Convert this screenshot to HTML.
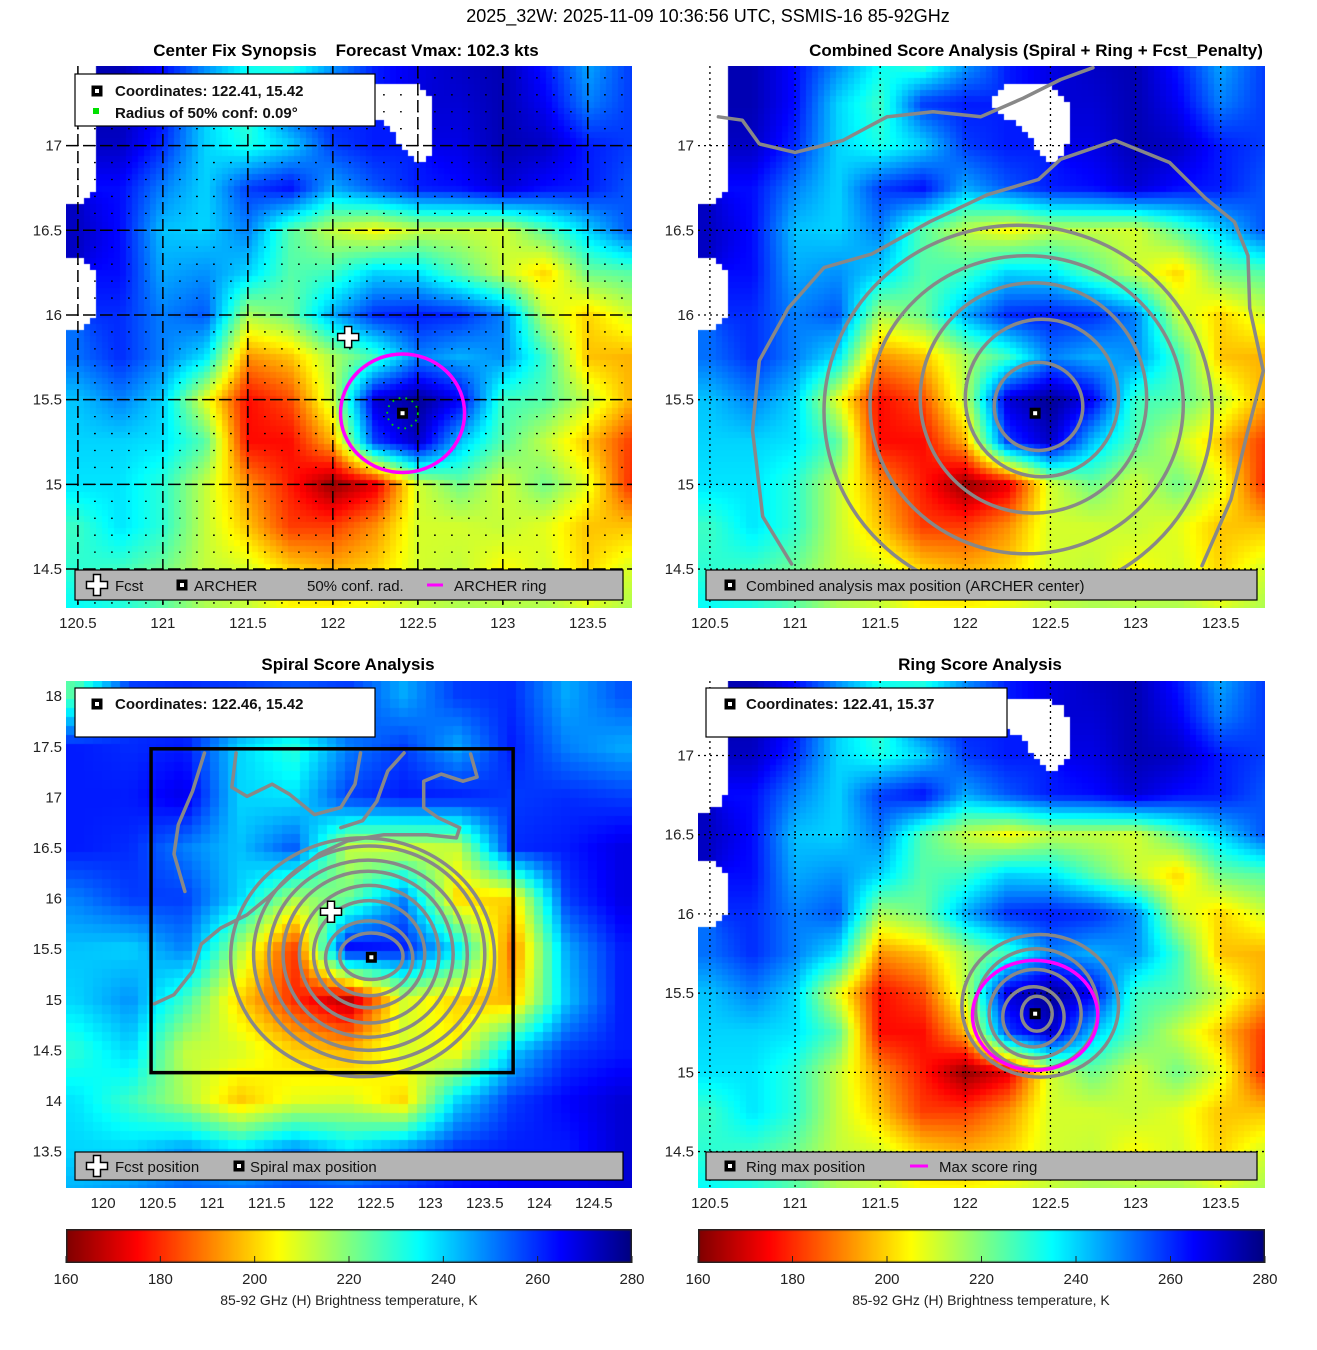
<!DOCTYPE html>
<html><head><meta charset="utf-8">
<style>
html,body{margin:0;padding:0;background:#fff;}
body{width:1317px;height:1350px;position:relative;overflow:hidden;font-family:"Liberation Sans","DejaVu Sans",sans-serif;}
canvas{position:absolute;}
svg{position:absolute;left:0;top:0;}
</style></head>
<body>
<canvas id="c1" width="566" height="542" style="left:66px;top:66px"></canvas>
<canvas id="c2" width="567" height="542" style="left:698px;top:66px"></canvas>
<canvas id="c3" width="566" height="507" style="left:66px;top:681px"></canvas>
<canvas id="c4" width="567" height="507" style="left:698px;top:681px"></canvas>
<canvas id="cb1" width="566" height="34" style="left:66px;top:1229px"></canvas>
<canvas id="cb2" width="567" height="34" style="left:698px;top:1229px"></canvas>
<svg id="ov" width="1317" height="1350" xmlns="http://www.w3.org/2000/svg">
<text x="708" y="22" font-size="18" text-anchor="middle">2025_32W: 2025-11-09 10:36:56 UTC, SSMIS-16 85-92GHz</text>
<text x="346" y="56" font-size="17" font-weight="bold" text-anchor="middle" xml:space="preserve">Center Fix Synopsis    Forecast Vmax: 102.3 kts</text>
<text x="1036" y="56" font-size="17" font-weight="bold" text-anchor="middle">Combined Score Analysis (Spiral + Ring + Fcst_Penalty)</text>
<text x="348" y="670" font-size="17" font-weight="bold" text-anchor="middle">Spiral Score Analysis</text>
<text x="980" y="670" font-size="17" font-weight="bold" text-anchor="middle">Ring Score Analysis</text>
<text x="349" y="1305" font-size="14" fill="#222" text-anchor="middle">85-92 GHz (H) Brightness temperature, K</text>
<text x="981" y="1305" font-size="14" fill="#222" text-anchor="middle">85-92 GHz (H) Brightness temperature, K</text>
</svg>
<script>
// ---- data: brightness temperature grid (panels 1,2,4) ----
const lonA=[120.5,120.75,121,121.25,121.5,121.75,122,122.25,122.5,122.75,123,123.25,123.5,123.75];
const latA=[17.5,17.25,17,16.75,16.5,16.25,16,15.75,15.5,15.25,15,14.75,14.5,14.25];
const tbA=[
[null,274,264,250,235,225,245,262,268,272,274,262,245,258],
[null,274,264,240,228,258,262,null,null,270,274,266,250,258],
[null,272,260,240,232,240,258,262,null,268,274,272,262,258],
[null,264,250,240,258,264,245,255,262,264,270,264,262,255],
[272,264,242,240,250,225,212,205,212,212,210,225,240,255],
[null,264,245,248,240,225,228,240,238,225,212,200,222,225],
[null,260,250,255,215,222,245,260,262,260,250,212,200,210],
[252,260,250,238,192,198,215,228,250,244,248,228,198,196],
[242,250,240,208,176,184,212,270,278,266,228,225,212,196],
[240,240,238,225,176,176,196,258,272,242,225,212,198,182],
[238,238,230,212,192,178,162,172,210,222,210,222,208,180],
[228,238,230,212,198,182,182,192,210,210,212,208,198,198],
[230,228,222,212,210,200,196,200,210,212,205,210,200,210],
[235,232,225,215,212,205,205,208,212,215,215,215,210,215]];
// ---- data: spiral panel wide grid ----
const lonB=[119.75,120.25,120.75,121.25,121.75,122.25,122.75,123.25,123.75,124.25,124.75];
const latB=[18,17.5,17,16.5,16,15.5,15,14.5,14,13.5,13];
const tbB=[
[225,258,260,258,255,258,245,258,260,245,255],
[262,260,262,240,230,250,258,245,262,250,245],
[262,262,268,240,238,258,262,262,258,260,258],
[262,260,250,242,255,212,210,212,260,262,268],
[250,258,258,240,215,222,250,200,200,258,268],
[242,240,250,215,180,266,262,238,188,245,262],
[240,248,228,200,180,166,210,200,196,242,262],
[230,240,212,210,200,196,210,205,240,258,262],
[238,228,215,198,208,210,200,240,258,265,270],
[240,240,248,240,250,240,250,260,262,262,270],
[245,250,255,255,258,260,262,265,268,270,270]];
// colorbar
const cbTicks=[160,180,200,220,240,260,280];
// axis ticks
const xTicksA=[120.5,121,121.5,122,122.5,123,123.5];
const yTicksA=[14.5,15,15.5,16,16.5,17];
const xTicksB=[120,120.5,121,121.5,122,122.5,123,123.5,124,124.5];
const yTicksB=[13.5,14,14.5,15,15.5,16,16.5,17,17.5,18];
// centers / markers
const archerCenter=[122.41,15.42];
const fcstPos=[122.09,15.87];
const spiralCenter=[122.46,15.42];
const ringCenter=[122.41,15.37];
const archerRing=[122.41,15.42,0.365,0.35];
const maxScoreRing=[122.41,15.36,0.368,0.347];
const confRadius=0.09;
// contour rings: cx, cy, rx, ry (degrees)
const combCx=[122.43,122.45,122.40,122.36,122.31];
const combCy=[15.46,15.51,15.51,15.47,15.43];
const combRx=[0.26,0.45,0.665,0.92,1.14];
const combRy=[0.26,0.465,0.68,0.88,1.10];
const combOuterLon=[120.98,120.81,120.75,120.79,120.96,121.17,121.45,121.79,122.13,122.43,122.56,122.88,123.2,123.41,123.58,123.66,123.67,123.75,123.66,123.56,123.39];
const combOuterLat=[14.53,14.81,15.32,15.73,16.04,16.28,16.36,16.55,16.71,16.80,16.92,17.03,16.9,16.69,16.55,16.35,16.04,15.67,15.32,14.91,14.52];
const combTopLon=[120.55,120.69,120.79,121.0,121.28,121.54,121.81,122.09,122.34,122.56,122.75];
const combTopLat=[17.17,17.15,17.01,16.96,17.03,17.17,17.2,17.17,17.28,17.39,17.46];
const spirCx=[122.46,122.44,122.44,122.44,122.43,122.43,122.44,122.38];
const spirCy=[15.43,15.41,15.45,15.45,15.45,15.44,15.45,15.42];
const spirRx=[0.29,0.40,0.51,0.64,0.78,0.91,1.06,1.21];
const spirRy=[0.23,0.37,0.53,0.68,0.82,0.94,1.07,1.18];
const spirBLon=[120.47,120.65,120.82,120.90,121.08,121.32,121.51,121.71,121.98,122.24,122.57,122.97,123.24,123.27,123.07,122.94,122.94,123.10,123.3,123.43,123.37];
const spirBLat=[14.96,15.05,15.28,15.55,15.71,15.84,16.01,16.21,16.44,16.57,16.63,16.63,16.6,16.7,16.8,16.9,17.16,17.23,17.16,17.2,17.43];
const spirCLon=[120.75,120.65,120.69,120.82,120.93];
const spirCLat=[16.07,16.44,16.73,17.06,17.44];
const spirDLon=[121.22,121.18,121.32,121.55,121.71,121.94,122.18,122.31,122.36];
const spirDLat=[17.44,17.10,17.01,17.13,17.03,16.83,16.9,17.13,17.44];
const spirELon=[122.76,122.61,122.51,122.38,122.18];
const spirELat=[17.44,17.26,16.96,16.77,16.70];
const ringCx=[122.42,122.40,122.41,122.42,122.44];
const ringCy=[15.37,15.35,15.37,15.40,15.42];
const ringRx=[0.09,0.18,0.27,0.36,0.46];
const ringRy=[0.11,0.19,0.28,0.38,0.45];

// ---- helpers ----
function jet(v){const t=Math.max(0,Math.min(1,(280-v)/120));
 const c=x=>Math.round(255*Math.max(0,Math.min(1,x)));
 return [c(1.5-Math.abs(4*t-3)),c(1.5-Math.abs(4*t-2)),c(1.5-Math.abs(4*t-1))];}
function sample(lons,lats,grid,lo,la){
 let i=(lo-lons[0])/(lons[1]-lons[0]), j=(la-lats[0])/(lats[1]-lats[0]);
 i=Math.max(0,Math.min(lons.length-1,i)); j=Math.max(0,Math.min(lats.length-1,j));
 const i0=Math.floor(i),j0=Math.floor(j),i1=Math.min(i0+1,lons.length-1),j1=Math.min(j0+1,lats.length-1);
 const fx=i-i0,fy=j-j0;let s=0,w=0,nw=0;
 [[i0,j0,(1-fx)*(1-fy)],[i1,j0,fx*(1-fy)],[i0,j1,(1-fx)*fy],[i1,j1,fx*fy]].forEach(([a,b,ww])=>{const v=grid[b][a];if(v!==null){s+=v*ww;w+=ww;}else nw+=ww;});
 if(nw>0.6||w===0) return null;
 return s/w;}
function axis(left,top,w,h,lon0,lon1,latT,latB){
 return {x:lo=>left+(lo-lon0)/(lon1-lon0)*w, y:la=>top+(latT-la)/(latT-latB)*h, left,top,w,h,lon0,lon1,latT,latB};}
const P1=axis(66,66,566,542,120.43,123.76,17.47,14.27);
const P2=axis(698,66,567,542,120.43,123.76,17.47,14.27);
const P3=axis(66,681,566,507,119.66,124.85,18.15,13.14);
const P4=axis(698,681,567,507,120.43,123.76,17.47,14.27);
function paint(id,P,lons,lats,grid,cell){
 const ctx=document.getElementById(id).getContext('2d');
 for(let py=0;py<P.h;py+=cell)for(let px=0;px<P.w;px+=cell){
  const lo=P.lon0+(px+cell/2)/P.w*(P.lon1-P.lon0), la=P.latT-(py+cell/2)/P.h*(P.latT-P.latB);
  const v=sample(lons,lats,grid,lo,la);
  if(v===null){ctx.fillStyle='#fff';}else{const c=jet(v);ctx.fillStyle='rgb('+c+')';}
  ctx.fillRect(px,py,cell,cell);}
}
paint('c1',P1,lonA,latA,tbA,6);
paint('c2',P2,lonA,latA,tbA,6);
paint('c4',P4,lonA,latA,tbA,6);
paint('c3',P3,lonB,latB,tbB,9);
['cb1','cb2'].forEach(id=>{const cv=document.getElementById(id),ctx=cv.getContext('2d');
 for(let x=0;x<cv.width;x++){const v=160+x/(cv.width-1)*120;ctx.fillStyle='rgb('+jet(v)+')';ctx.fillRect(x,0,1,cv.height);}
 ctx.strokeStyle='#222';ctx.lineWidth=1.5;ctx.strokeRect(0.75,0.75,cv.width-1.5,cv.height-1.5);});

const NS='http://www.w3.org/2000/svg', svg=document.getElementById('ov');
function el(tag,attrs,parent){const e=document.createElementNS(NS,tag);for(const k in attrs)e.setAttribute(k,attrs[k]);(parent||svg).appendChild(e);return e;}
function clipFor(P,id){const cp=el('clipPath',{id:id});el('rect',{x:P.left,y:P.top,width:P.w,height:P.h},cp);const g=el('g',{'clip-path':'url(#'+id+')'});return g;}
const g1=clipFor(P1,'k1'),g2=clipFor(P2,'k2'),g3=clipFor(P3,'k3'),g4=clipFor(P4,'k4');

// grid lines
function grid(P,g,xt,yt,major,minor){
 if(minor){const step=P.x(120.6)-P.x(120.5);const off=-(P.x(Math.ceil(P.lon0*10)/10)-P.left);
  for(let la=Math.ceil(P.latB*10)/10;la<P.latT;la+=0.1){const y=P.y(la);const l=el('line',{x1:P.left,y1:y,x2:P.left+P.w,y2:y,stroke:'#000','stroke-width':1.3,'stroke-dasharray':'1.8,'+(step-1.8).toFixed(2),'stroke-dashoffset':(off+0.9).toFixed(2)},g);}}
 xt.forEach(v=>{const x=P.x(v);const l=el('line',{x1:x,y1:P.top,x2:x,y2:P.top+P.h,stroke:'#000','stroke-width':major?1.5:1.3,'stroke-dasharray':major?'12,5':'2,4'},g);});
 yt.forEach(v=>{const y=P.y(v);const l=el('line',{x1:P.left,y1:y,x2:P.left+P.w,y2:y,stroke:'#000','stroke-width':major?1.5:1.3,'stroke-dasharray':major?'12,5':'2,4'},g);});}
grid(P1,g1,xTicksA,yTicksA,true,true);
grid(P2,g2,xTicksA,yTicksA,false,false);
grid(P4,g4,xTicksA,yTicksA,false,false);

// tick labels
function ticks(P,xt,yt){
 xt.forEach(v=>{const t=el('text',{x:P.x(v),y:P.top+P.h+20,'font-size':15,'text-anchor':'middle',fill:'#222'});t.textContent=String(v);});
 yt.forEach(v=>{const t=el('text',{x:P.left-4,y:P.y(v)+5,'font-size':15,'text-anchor':'end',fill:'#222'});t.textContent=String(v);});}
ticks(P1,xTicksA,yTicksA);ticks(P2,xTicksA,yTicksA);ticks(P3,xTicksB,yTicksB);ticks(P4,xTicksA,yTicksA);
// colorbar ticks
[[66,566],[698,567]].forEach(([l,w])=>{cbTicks.forEach(v=>{const x=l+(v-160)/120*w;
 const tk=el('line',{x1:x,y1:1256,x2:x,y2:1263,stroke:'#222','stroke-width':1});
 const t=el('text',{x:x,y:1284,'font-size':15,'text-anchor':'middle',fill:'#222'});t.textContent=String(v);});});

// contours
const GRAY='#888';
function rings(P,g,cx,cy,rx,ry,w){for(let k=0;k<cx.length;k++){
 const e=el('ellipse',{cx:P.x(cx[k]),cy:P.y(cy[k]),rx:Math.abs(P.x(cx[k]+rx[k])-P.x(cx[k])),ry:Math.abs(P.y(cy[k]+ry[k])-P.y(cy[k])),fill:'none',stroke:GRAY,'stroke-width':w},g);
 }}
function poly(P,g,lons,lats,w){const pts=lons.map((lo,i)=>P.x(lo).toFixed(1)+','+P.y(lats[i]).toFixed(1)).join(' ');
 const p=el('polyline',{points:pts,fill:'none',stroke:GRAY,'stroke-width':w,'stroke-linejoin':'round','stroke-linecap':'round'},g);
 }
rings(P2,g2,combCx,combCy,combRx,combRy,3.5);
poly(P2,g2,combOuterLon,combOuterLat,3.5);
poly(P2,g2,combTopLon,combTopLat,3.5);
rings(P3,g3,spirCx,spirCy,spirRx,spirRy,3.5);
poly(P3,g3,spirBLon,spirBLat,3.5);
poly(P3,g3,spirCLon,spirCLat,3.5);
poly(P3,g3,spirDLon,spirDLat,3.5);
poly(P3,g3,spirELon,spirELat,3.5);
rings(P4,g4,ringCx,ringCy,ringRx,ringRy,3.5);

// search box in spiral panel
const sb=el('rect',{x:P3.x(120.44),y:P3.y(17.48),width:P3.x(123.76)-P3.x(120.44),height:P3.y(14.28)-P3.y(17.48),fill:'none',stroke:'#000','stroke-width':3.5},g3);


// magenta rings
function mring(P,g,r,name){const e=el('ellipse',{cx:P.x(r[0]),cy:P.y(r[1]),rx:P.x(r[0]+r[2])-P.x(r[0]),ry:P.y(r[1])-P.y(r[1]+r[3]),fill:'none',stroke:'#ff00ff','stroke-width':3.5},g);
 }
mring(P1,g1,archerRing,'archer-ring');
mring(P4,g4,maxScoreRing,'max-score-ring');
const cc=el('circle',{cx:P1.x(archerCenter[0]),cy:P1.y(archerCenter[1]),r:P1.x(archerCenter[0]+confRadius)-P1.x(archerCenter[0]),fill:'none',stroke:'#00cc00','stroke-width':1.8,'stroke-dasharray':'1.8,5'},g1);


// markers
function sq(x,y,name){const g=el('g',{});
 el('rect',{x:x-5.5,y:y-5.5,width:11,height:11,fill:'#000'},g);el('rect',{x:x-2,y:y-2,width:4,height:4,fill:'#fff'},g);}
function cross(x,y,name){const s=3.5;const d=`M${x-s},${y-3*s}h${2*s}v${2*s}h${2*s}v${2*s}h${-2*s}v${2*s}h${-2*s}v${-2*s}h${-2*s}v${-2*s}h${2*s}z`;
 const p=el('path',{d:d,fill:'#fff',stroke:'#000','stroke-width':1.5});}
sq(P1.x(archerCenter[0]),P1.y(archerCenter[1]),'archer-center-marker');
cross(P1.x(fcstPos[0]),P1.y(fcstPos[1]),'fcst-marker');
sq(P2.x(archerCenter[0]),P2.y(archerCenter[1]),'combined-max-marker');
sq(P3.x(spiralCenter[0]),P3.y(spiralCenter[1]),'spiral-max-marker');
cross(P3.x(fcstPos[0]),P3.y(fcstPos[1]),'spiral-fcst-marker');
sq(P4.x(ringCenter[0]),P4.y(ringCenter[1]),'ring-max-marker');

// legends
function box(x,y,w,h,fill,name){const r=el('rect',{x:x,y:y,width:w,height:h,fill:fill,stroke:'#000','stroke-width':1.2});}
function txt(x,y,s,bold,name){const t=el('text',{x:x,y:y,'font-size':15,'font-weight':bold?'bold':'normal',fill:'#111'});t.textContent=s;}
box(75,74,300,52,'#fff','synopsis-info-box');
sq(97,91,'info-archer-icon');txt(115,96,'Coordinates: 122.41, 15.42',true,'synopsis-coordinates');
const gs=el('rect',{x:93,y:108,width:6,height:6,fill:'#00e000'});
txt(115,118,'Radius of 50% conf: 0.09°',true,'synopsis-conf-radius');
box(75,570,548,30,'#b4b4b4','synopsis-legend');
cross(97,585,'legend-fcst-icon');txt(115,591,'Fcst',false,'legend-fcst');
sq(182,585,'legend-archer-icon');txt(194,591,'ARCHER',false,'legend-archer');
txt(307,591,'50% conf. rad.',false,'legend-conf-rad');
const ml=el('line',{x1:427,y1:585,x2:443,y2:585,stroke:'#ff00ff','stroke-width':3});
txt(454,591,'ARCHER ring',false,'legend-archer-ring');

box(706,570,551,30,'#b4b4b4','combined-legend');
sq(730,585,'legend-combined-icon');txt(746,591,'Combined analysis max position (ARCHER center)',false,'legend-combined');

box(75,688,300,49,'#fff','spiral-info-box');
sq(97,704,'spiral-info-icon');txt(115,709,'Coordinates: 122.46, 15.42',true,'spiral-coordinates');
box(75,1152,548,28,'#b4b4b4','spiral-legend');
cross(97,1166,'legend-spiral-fcst-icon');txt(115,1172,'Fcst position',false,'legend-fcst-position');
sq(239,1166,'legend-spiral-icon');txt(250,1172,'Spiral max position',false,'legend-spiral-max');

box(706,688,301,49,'#fff','ring-info-box');
sq(730,704,'ring-info-icon');txt(746,709,'Coordinates: 122.41, 15.37',true,'ring-coordinates');
box(706,1152,551,28,'#b4b4b4','ring-legend');
sq(730,1166,'legend-ring-max-icon');txt(746,1172,'Ring max position',false,'legend-ring-max');
const ml2=el('line',{x1:910,y1:1166,x2:928,y2:1166,stroke:'#ff00ff','stroke-width':3});
txt(939,1172,'Max score ring',false,'legend-max-score-ring');
</script>
</body></html>
